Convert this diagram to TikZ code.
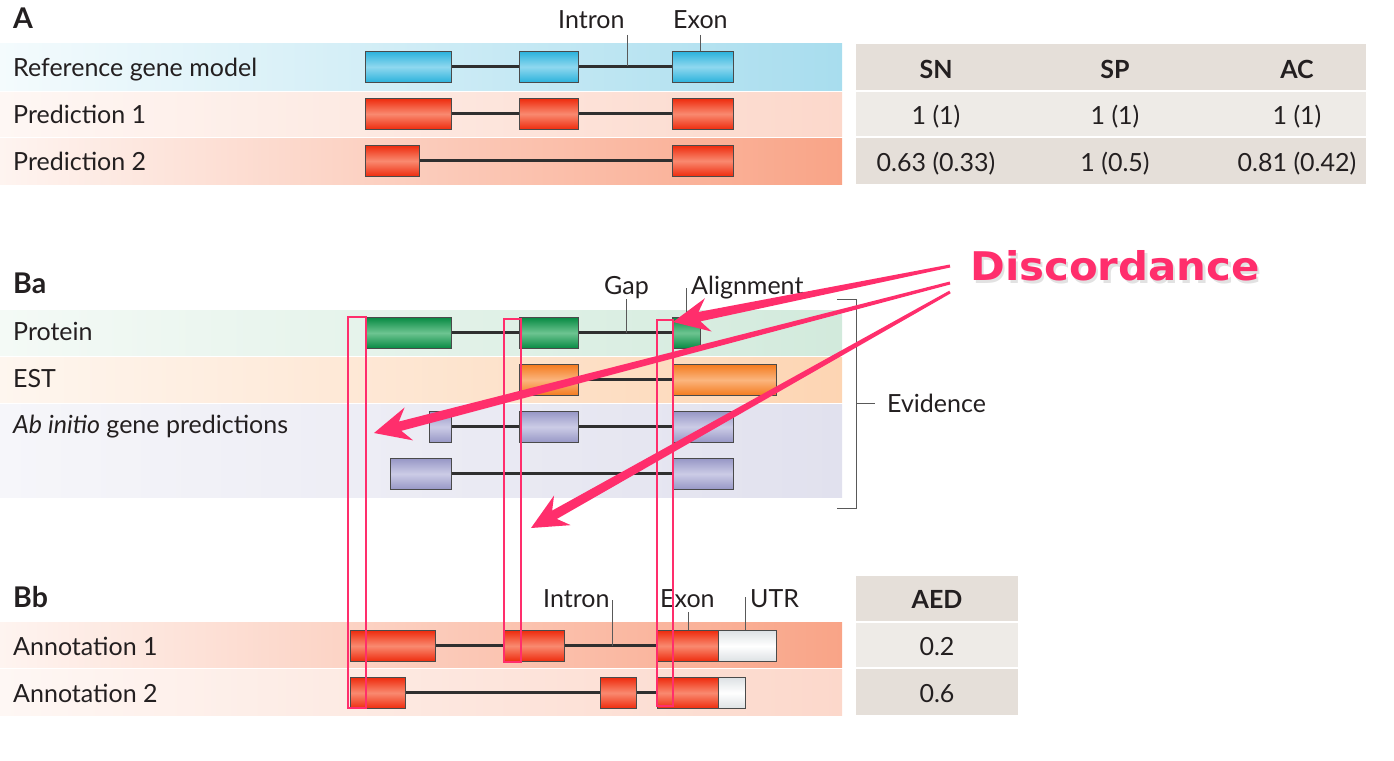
\documentclass[tikz,border=0pt]{standalone}
\usepackage{fontspec}
\setmainfont{Lato}
\newfontfamily\discfont{DejaVu Sans}
\usetikzlibrary{calc}
\definecolor{txt}{HTML}{231F20}
\definecolor{refL}{HTML}{F4FBFD}\definecolor{refR}{HTML}{A8DDEE}
\definecolor{poL}{HTML}{FEF7F4}\definecolor{poR}{HTML}{FCD8CB}
\definecolor{ptL}{HTML}{FEF4F0}\definecolor{ptR}{HTML}{F9A487}
\definecolor{prL}{HTML}{F4FAF6}\definecolor{prR}{HTML}{D2EADC}
\definecolor{esL}{HTML}{FEF6EF}\definecolor{esR}{HTML}{FDD5B3}
\definecolor{abL}{HTML}{F6F6FA}\definecolor{abR}{HTML}{E1E1EE}
\definecolor{tabH}{HTML}{E5DFD9}\definecolor{tabR}{HTML}{EEEBE7}
\definecolor{blueA}{HTML}{2BB2DC}\definecolor{blueB}{HTML}{8FD8EF}
\definecolor{redA}{HTML}{EE2B0D}\definecolor{redB}{HTML}{F98A70}
\definecolor{grnA}{HTML}{078A43}\definecolor{grnB}{HTML}{6DC491}
\definecolor{orA}{HTML}{F47B1E}\definecolor{orB}{HTML}{FBB57E}
\definecolor{lavA}{HTML}{9797C6}\definecolor{lavB}{HTML}{CCCCE6}
\definecolor{utrA}{HTML}{DDE1E4}\definecolor{utrB}{HTML}{FFFFFF}
\definecolor{boxline}{HTML}{4A4A4A}
\definecolor{intronc}{HTML}{2F2F2F}
\definecolor{pinkc}{HTML}{FF2E6C}
\newcommand\lbfont{\fontsize{25}{30}\selectfont}
\newcommand\exon[5]{\node[#2, minimum width={(#4-#3)*1pt}, minimum height=31pt, anchor=north west] (#1) at (#3,#5) {};}
\newcommand\pinkarrow[2]{%
  \coordinate (hb) at ($(#2)!27pt!(#1)$);
  \coordinate (hw) at ($(#2)!36pt!(#1)$);
  \fill[pinkc] ($(#1)!1.5pt!90:(#2)$) -- ($(hb)!4.8pt!-90:(#1)$) -- ($(hw)!17pt!-90:(#1)$) -- (#2)
     -- ($(hw)!17pt!90:(#1)$) -- ($(hb)!4.8pt!90:(#1)$) -- ($(#1)!1.5pt!-90:(#2)$) -- cycle;}
\tikzset{
  lbl/.style={anchor=base west, inner sep=0, text=txt, font=\lbfont},
  ctr/.style={anchor=base, inner sep=0, text=txt, font=\lbfont},
  hdr/.style={anchor=base, inner sep=0, text=txt, font=\lbfont\bfseries},
  sec/.style={anchor=base west, inner sep=0, text=txt, font=\fontsize{28.5}{32}\selectfont\bfseries},
  exbase/.style={draw=boxline, line width=0.8pt, inner sep=0},
  blueex/.style={exbase, top color=blueA, bottom color=blueA, middle color=blueB},
  redex/.style={exbase, top color=redA, bottom color=redA, middle color=redB},
  grnex/.style={exbase, top color=grnA, bottom color=grnA, middle color=grnB},
  orex/.style={exbase, top color=orA, bottom color=orA, middle color=orB},
  lavex/.style={exbase, top color=lavA, bottom color=lavA, middle color=lavB},
  utrex/.style={exbase, top color=utrA, bottom color=utrA, middle color=utrB},
  intron/.style={draw=intronc, line width=3pt},
  pointer/.style={draw=intronc!80, line width=0.8pt},
  pinkrect/.style={draw=pinkc, line width=1.8pt},
  disc/.style={anchor=base, inner sep=0, font=\discfont\fontsize{39.5}{44}\selectfont\bfseries, xscale=1.06},
}
\begin{document}
\begin{tikzpicture}[x=1pt,y=-1pt]
\useasboundingbox (0,0) rectangle (1394,760);
% ---------- bands ----------
\path[left color=refL, right color=refR] (0,44) rectangle (842,90);
\path[left color=poL, right color=poR] (0,92) rectangle (842,136);
\path[left color=ptL, right color=ptR] (0,138) rectangle (842,184);
\path[left color=prL, right color=prR] (0,310) rectangle (842,355);
\path[left color=esL, right color=esR] (0,357) rectangle (842,402);
\path[left color=abL, right color=abR] (0,404) rectangle (842,450);
\path[left color=abL, right color=abR] (0,451) rectangle (842,497);
\path[left color=ptL, right color=ptR] (0,622) rectangle (842,667);
\path[left color=poL, right color=poR] (0,669) rectangle (842,715);
% ---------- tables ----------
\fill[tabH] (856,44) rectangle (1366,90);
\fill[tabR] (856,92) rectangle (1366,136);
\fill[tabH] (856,138) rectangle (1366,184);
\fill[tabH] (856,576) rectangle (1018,621);
\fill[tabR] (856,623) rectangle (1018,667);
\fill[tabH] (856,669) rectangle (1018,715);
\node[hdr] (hSN) at (936,78) {SN};
\node[hdr] (hSP) at (1115,78) {SP};
\node[hdr] (hAC) at (1297,78) {AC};
\node[ctr] (v11) at (936,124) {1 (1)};
\node[ctr] (v12) at (1115,124) {1 (1)};
\node[ctr] (v13) at (1297,124) {1 (1)};
\node[ctr] (v21) at (936,171) {0.63 (0.33)};
\node[ctr] (v22) at (1115,171) {1 (0.5)};
\node[ctr] (v23) at (1297,171) {0.81 (0.42)};
\node[hdr] (hAED) at (937,608) {AED};
\node[ctr] (aed1) at (937,655) {0.2};
\node[ctr] (aed2) at (937,702) {0.6};
% ---------- section labels ----------
\node[sec] (secA) at (13,29) {A};
\node[sec] (secBa) at (13,293) {Ba};
\node[sec] (secBb) at (13,607) {Bb};
\node[lbl] (lref) at (13,77) {Reference gene model};
\node[lbl] (lp1) at (13,123) {Prediction 1};
\node[lbl] (lp2) at (13,170) {Prediction 2};
\node[lbl] (lprot) at (13,340) {Protein};
\node[lbl] (lest) at (13,387) {EST};
\node[lbl] (lab) at (13,433) {\itshape Ab initio\upshape\ gene predictions};
\node[lbl] (lan1) at (13,655) {Annotation 1};
\node[lbl] (lan2) at (13,702) {Annotation 2};
% ---------- A: gene models ----------
\exon{r1}{blueex}{365}{451}{51}
\exon{r2}{blueex}{519}{578}{51}
\exon{r3}{blueex}{672}{733}{51}
\draw[intron] (r1.east) -- (r2.west) (r2.east) -- (r3.west);
\exon{pa1}{redex}{365}{451}{98}
\exon{pa2}{redex}{519}{578}{98}
\exon{pa3}{redex}{672}{733}{98}
\draw[intron] (pa1.east) -- (pa2.west) (pa2.east) -- (pa3.west);
\exon{pb1}{redex}{365}{419}{145}
\exon{pb3}{redex}{672}{733}{145}
\draw[intron] (pb1.east) -- (pb3.west);
\node[lbl] (tIntronA) at (558,29) {Intron};
\node[lbl] (tExonA) at (673,29) {Exon};
\coordinate (iA) at (627,35);
\coordinate (iA2) at (627,66.5);
\draw[pointer] (iA) -- (iA2);
\coordinate (eA) at (700,35);
\draw[pointer] (eA) -- (r3.north -| eA);
% ---------- Ba: evidence ----------
\exon{pr1}{grnex}{365}{451}{317}
\exon{pr2}{grnex}{519}{578}{317}
\exon{pr3}{grnex}{672}{700}{317}
\draw[intron] (pr1.east) -- (pr2.west) (pr2.east) -- (pr3.west);
\exon{es1}{orex}{519}{578}{364}
\exon{es2}{orex}{672}{776}{364}
\draw[intron] (es1.east) -- (es2.west);
\exon{ab1}{lavex}{429}{451}{411}
\exon{ab2}{lavex}{519}{578}{411}
\exon{ab3}{lavex}{672}{733}{411}
\draw[intron] (ab1.east) -- (ab2.west) (ab2.east) -- (ab3.west);
\exon{ac1}{lavex}{390}{451}{458}
\exon{ac3}{lavex}{672}{733}{458}
\draw[intron] (ac1.east) -- (ac3.west);
\node[lbl] (tGap) at (604,294) {Gap};
\node[lbl] (tAlign) at (691,294) {Alignment};
\coordinate (gp) at (626,299);
\coordinate (gp2) at (626,332.5);
\draw[pointer] (gp) -- (gp2);
\coordinate (al) at (686,288);
\draw[pointer] (al) -- (pr3.north -| al);
% evidence bracket
\coordinate (bt) at (837,299);
\coordinate (bb) at (837,508);
\coordinate (bm) at (875,403);
\draw[pointer] (bt) -- (856,299) -- (856,508) -- (bb);
\draw[pointer] (856,403) -- (bm);
\node[lbl] (tEvid) at (887,412) {Evidence};
% ---------- Bb: annotations ----------
\exon{an1}{redex}{350}{435}{630}
\exon{an2}{redex}{504}{564}{630}
\exon{an3}{redex}{657}{718}{630}
\exon{anu}{utrex}{718}{776}{630}
\draw[intron] (an1.east) -- (an2.west) (an2.east) -- (an3.west);
\exon{bn1}{redex}{350}{405}{677}
\exon{bn2}{redex}{600}{636}{677}
\exon{bn3}{redex}{657}{718}{677}
\exon{bnu}{utrex}{718}{745}{677}
\draw[intron] (bn1.east) -- (bn2.west) (bn2.east) -- (bn3.west);
\node[lbl] (tIntronB) at (543,607) {Intron};
\node[lbl] (tExonB) at (660,607) {Exon};
\node[lbl] (tUTR) at (750,607) {UTR};
\coordinate (iB) at (612,600);
\coordinate (iB2) at (612,645.5);
\draw[pointer] (iB) -- (iB2);
\coordinate (eB) at (688,612);
\draw[pointer] (eB) -- (an3.north -| eB);
\coordinate (uB) at (745.5,597);
\draw[pointer] (uB) -- (anu.north -| uB);
% ---------- discordance highlights ----------
\draw[pinkrect] (348,317) rectangle (366,708);
\draw[pinkrect] (504,319) rectangle (521,662);
\draw[pinkrect] (657,320) rectangle (673,706);
% ---------- arrows ----------
\coordinate (s1) at (950,266);
\coordinate (s2) at (950,283);
\coordinate (s3) at (950,292);
\coordinate (t1) at (673,322);
\coordinate (t2) at (374,433);
\coordinate (t3) at (531,528);
\pinkarrow{s1}{t1}
\pinkarrow{s2}{t2}
\pinkarrow{s3}{t3}
% ---------- Discordance label ----------
\coordinate (dc) at (1115,280);
\node[disc, text=black!25, opacity=0.45] (dsh) at ($(dc)+(2.5,3.5)$) {Discordance};
\node[disc, text=pinkc] (dtext) at (dc) {Discordance};
\end{tikzpicture}
\end{document}
